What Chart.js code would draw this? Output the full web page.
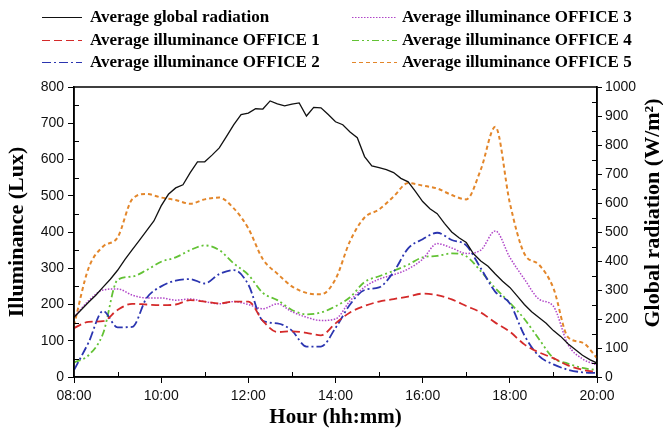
<!DOCTYPE html>
<html>
<head>
<meta charset="utf-8">
<script src="https://cdn.jsdelivr.net/npm/chart.js@4/dist/chart.umd.min.js"></script>
<style>
  html, body { margin: 0; padding: 0; background: #fff; }
  #wrap { width: 663px; height: 433px; }
</style>
</head>
<body>
<div id="wrap"><canvas id="chart" width="663" height="433"></canvas></div>
<script>
// sampling: radiation every 10 min, offices every 20 min, starting 08:00
const startHour = 8;
const radStepMin = 10;
const officeStepMin = 20;

const xTickLabels = ['08:00', '10:00', '12:00', '14:00', '16:00', '18:00', '20:00'];
const minorHours = [9, 11, 13, 15, 17, 19];
const minorLux = [50, 150, 250, 350, 450, 550, 650, 750];
const minorRad = [50, 150, 250, 350, 450, 550, 650, 750, 850, 950];

// W/m2
const globalRadiation = [
  206, 232, 258, 282, 310, 337,
  368, 405, 438, 471, 505, 538,
  590, 630, 652, 663, 705, 742,
  742, 765, 790, 830, 870, 905,
  910, 925, 924, 952, 942, 935,
  941, 945, 900, 930, 928, 905,
  880, 870, 845, 825, 760, 728,
  722, 715, 705, 685, 673, 640,
  605, 580, 563, 530, 500, 480,
  464, 425, 400, 382, 355, 330,
  309, 280, 250, 225, 205, 185,
  160, 140, 115, 95, 75, 60,
  48
];

// lux
const office1 = [135, 152, 154, 185, 202, 200, 198, 200, 212, 208, 203, 208, 208, 155, 124, 126, 122, 115, 148,
  178, 196, 208, 215, 222, 230, 226, 214, 196, 178, 150, 125, 90, 68, 52, 32, 20, 14];
const office2 = [19, 95, 182, 137, 138, 218, 250, 266, 270, 258, 284, 295, 255, 155, 148, 128, 84, 84, 135,
  200, 240, 247, 290, 355, 380, 398, 378, 363, 300, 235, 203, 115, 58, 35, 20, 13, 11];
const office3 = [165, 210, 240, 243, 226, 218, 218, 212, 215, 208, 202, 208, 200, 188, 202, 180, 165, 156, 160,
  210, 248, 270, 282, 298, 325, 368, 356, 341, 350, 403, 330, 270, 215, 195, 90, 50, 33];
const office4 = [40, 60, 120, 268, 277, 295, 318, 330, 350, 363, 350, 313, 282, 232, 212, 185, 173, 178, 195,
  220, 262, 278, 293, 310, 330, 334, 341, 333, 292, 245, 205, 160, 105, 52, 37, 25, 19];
const office5 = [143, 300, 360, 385, 490, 505, 495, 488, 478, 490, 495, 465, 410, 325, 285, 250, 232, 228, 270,
  375, 440, 462, 498, 535, 528, 520, 502, 490, 572, 690, 480, 340, 310, 245, 110, 95, 52];

const legendLabels = [
  'Average global radiation',
  'Average illuminance OFFICE 1',
  'Average illuminance OFFICE 2',
  'Average illuminance OFFICE 3',
  'Average illuminance OFFICE 4',
  'Average illuminance OFFICE 5'
];

function toPoints(values, stepMin) {
  return values.map((v, i) => ({ x: startHour + i * stepMin / 60, y: v }));
}

const serif = '"Liberation Serif", "Times New Roman", serif';
const sans = '"Liberation Sans", Arial, sans-serif';

const extras = {
  id: 'extras',
  afterDraw(chart) {
    const { ctx, chartArea: a, scales } = chart;
    ctx.save();
    ctx.strokeStyle = '#000';
    ctx.lineWidth = 1.5;
    ctx.strokeRect(a.left, a.top, a.right - a.left, a.bottom - a.top);

    // minor ticks point inward
    ctx.lineWidth = 1;
    ctx.beginPath();
    minorHours.forEach(h => {
      const x = Math.round(scales.x.getPixelForValue(h)) + 0.5;
      ctx.moveTo(x, a.bottom);
      ctx.lineTo(x, a.bottom - 5);
    });
    minorLux.forEach(v => {
      const y = Math.round(scales.y.getPixelForValue(v)) + 0.5;
      ctx.moveTo(a.left, y);
      ctx.lineTo(a.left + 5, y);
    });
    minorRad.forEach(v => {
      const y = Math.round(scales.y2.getPixelForValue(v)) + 0.5;
      ctx.moveTo(a.right, y);
      ctx.lineTo(a.right - 5, y);
    });
    ctx.stroke();

    // right axis title, reads bottom to top
    ctx.save();
    ctx.translate(653, 213);
    ctx.rotate(-Math.PI / 2);
    ctx.fillStyle = '#000';
    ctx.font = 'bold 22px ' + serif;
    ctx.textAlign = 'center';
    ctx.textBaseline = 'middle';
    ctx.fillText('Global radiation (W/m²)', 0, 0);
    ctx.restore();

    // legend, two columns of three
    const lineX = [42, 352];
    const lineLen = [40, 45];
    const textX = [90, 402];
    const rowY = [17, 40, 62];
    ctx.font = 'bold 17px ' + serif;
    ctx.textBaseline = 'middle';
    ctx.textAlign = 'left';
    chart.data.datasets.forEach((ds, i) => {
      const col = i < 3 ? 0 : 1;
      const y = rowY[i % 3];
      ctx.strokeStyle = ds.borderColor;
      ctx.lineWidth = 1.2;
      ctx.setLineDash(ds.borderDash || []);
      ctx.beginPath();
      ctx.moveTo(lineX[col], y + 0.5);
      ctx.lineTo(lineX[col] + lineLen[col], y + 0.5);
      ctx.stroke();
      ctx.setLineDash([]);
      ctx.fillStyle = '#000';
      ctx.fillText(legendLabels[i], textX[col], y + 1);
    });
    ctx.restore();
  }
};

const officeLine = (data, color, dash, width) => ({
  data: toPoints(data, officeStepMin),
  yAxisID: 'y',
  borderColor: color,
  borderDash: dash,
  borderWidth: width,
  pointRadius: 0,
  cubicInterpolationMode: 'monotone',
  fill: false
});

new Chart(document.getElementById('chart'), {
  type: 'line',
  data: {
    datasets: [
      {
        data: toPoints(globalRadiation, radStepMin),
        yAxisID: 'y2',
        borderColor: '#111',
        borderWidth: 1.3,
        pointRadius: 0,
        tension: 0,
        fill: false
      },
      officeLine(office1, '#d42a2a', [8, 4], 1.8),
      officeLine(office2, '#2b35b0', [9, 3, 2, 3], 1.8),
      officeLine(office3, '#b045c8', [1.5, 1.5], 1.5),
      officeLine(office4, '#62c234', [7, 3, 2, 3, 2, 3], 1.8),
      officeLine(office5, '#e3862a', [4, 3], 2)
    ]
  },
  options: {
    responsive: false,
    animation: false,
    layout: { padding: { top: 87, left: 0, right: 0, bottom: 0 } },
    plugins: {
      legend: { display: false },
      tooltip: { enabled: false }
    },
    scales: {
      x: {
        type: 'linear',
        min: 8,
        max: 20,
        afterFit(s) { s.height = 56; },
        ticks: {
          stepSize: 1,
          autoSkip: false,
          maxRotation: 0,
          padding: 5,
          color: '#111',
          font: { family: sans, size: 14 },
          callback: v => (v % 2 === 0 ? xTickLabels[(v - 8) / 2] : null)
        },
        grid: { drawOnChartArea: false, tickLength: 6, color: '#000', lineWidth: 1 },
        border: { color: '#000', width: 1.5 },
        title: {
          display: true,
          text: 'Hour (hh:mm)',
          color: '#000',
          font: { family: serif, size: 21, weight: 'bold' },
          padding: { top: 0, bottom: 3 }
        }
      },
      y: {
        position: 'left',
        min: 0,
        max: 800,
        afterFit(s) { s.width = 74; },
        ticks: {
          stepSize: 100,
          padding: 4,
          color: '#111',
          font: { family: sans, size: 14 },
          callback: v => String(v)
        },
        grid: { drawOnChartArea: false, tickLength: 6, color: '#000', lineWidth: 1 },
        border: { color: '#000', width: 1.5 },
        title: {
          display: true,
          text: 'Illuminance (Lux)',
          color: '#000',
          font: { family: serif, size: 22, weight: 'bold' },
          padding: { top: 4, bottom: 0 }
        }
      },
      y2: {
        position: 'right',
        min: 0,
        max: 1000,
        afterFit(s) { s.width = 66; },
        ticks: {
          stepSize: 100,
          padding: 3,
          color: '#111',
          font: { family: sans, size: 14 },
          callback: v => String(v)
        },
        grid: { drawOnChartArea: false, tickLength: 5, color: '#000', lineWidth: 1 },
        border: { color: '#000', width: 1.5 }
      }
    }
  },
  plugins: [extras]
});
</script>
</body>
</html>
